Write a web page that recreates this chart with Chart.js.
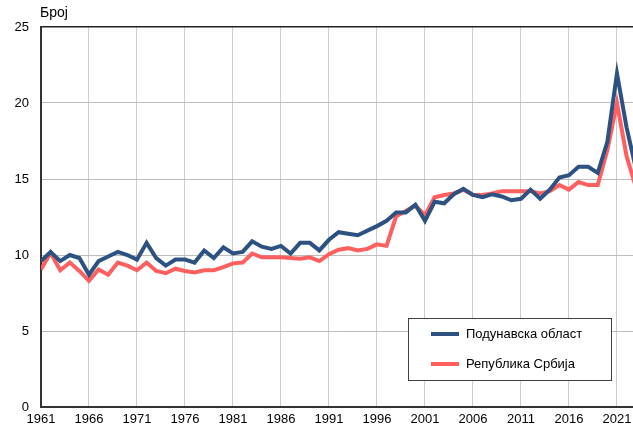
<!DOCTYPE html>
<html>
<head>
<meta charset="utf-8">
<script src="https://cdn.jsdelivr.net/npm/chart.js@4/dist/chart.umd.min.js"></script>
<style>
  html, body { margin: 0; padding: 0; background: #fff; }
  #wrap { position: relative; width: 633px; height: 428px; }
</style>
</head>
<body>
<div id="wrap"><canvas id="chart" width="633" height="428"></canvas></div>
<script>
const years = [];
for (let y = 1961; y <= 2023; y++) years.push(y);

const tickYears = [1961, 1966, 1971, 1976, 1981, 1986, 1991, 1996, 2001, 2006, 2011, 2016, 2021];

// Подунавска област
const podunavska = [
  9.6, 10.2, 9.6, 10.0, 9.8, 8.7, 9.6, 9.9, 10.2, 10.0,
  9.7, 10.8, 9.8, 9.3, 9.7, 9.7, 9.5, 10.3, 9.8, 10.5,
  10.1, 10.2, 10.9, 10.55, 10.4, 10.6, 10.1, 10.8, 10.8, 10.3,
  11.0, 11.5, 11.4, 11.3, 11.6, 11.9, 12.25, 12.8, 12.8, 13.3,
  12.25, 13.5, 13.4, 14.0, 14.35, 13.95, 13.8, 14.0, 13.85, 13.6,
  13.7, 14.3, 13.7, 14.3, 15.1, 15.25, 15.8, 15.8, 15.4, 17.45,
  21.95, 18.4, 15.6
];

// Република Србија
const srbija = [
  9.05, 10.15, 9.0, 9.5, 8.95, 8.3, 9.05, 8.7, 9.5, 9.3,
  9.0, 9.5, 8.95, 8.8, 9.1, 8.95, 8.85, 9.0, 9.0, 9.2,
  9.45, 9.5, 10.1, 9.85, 9.85, 9.85, 9.8, 9.75, 9.85, 9.6,
  10.05, 10.35, 10.45, 10.3, 10.4, 10.7, 10.6, 12.55, 12.9, 13.25,
  12.6, 13.8, 13.95, 14.05, 14.3, 13.95, 13.95, 14.05, 14.2, 14.2,
  14.2, 14.2, 14.05, 14.2, 14.6, 14.3, 14.8, 14.6, 14.6, 16.9,
  20.0, 16.5, 14.4
];

const seriesNames = ["Подунавска област", "Република Србија"];
const seriesColors = ["#2d5282", "#ff5f5f"];
const yLabel = "Број";

const labelsPlugin = {
  id: "labels",
  afterDraw(chart) {
    const { ctx, chartArea } = chart;
    ctx.save();
    // y axis label
    ctx.fillStyle = "#000";
    ctx.font = "14px 'Liberation Sans', Arial, sans-serif";
    ctx.textBaseline = "alphabetic";
    ctx.textAlign = "left";
    ctx.fillText(yLabel, chartArea.left - 1, chartArea.top - 10);

    // legend box
    const bx = 408, by = 318, bw = 203, bh = 62;
    ctx.fillStyle = "#fff";
    ctx.fillRect(bx, by, bw, bh);
    ctx.strokeStyle = "#404040";
    ctx.lineWidth = 1;
    ctx.strokeRect(bx + 0.5, by + 0.5, bw, bh);
    ctx.font = "13px 'Liberation Sans', Arial, sans-serif";
    ctx.textBaseline = "middle";
    chart.data.datasets.forEach((ds, i) => {
      const ly = by + 16 + i * 30;
      ctx.strokeStyle = ds.borderColor;
      ctx.lineWidth = 4;
      ctx.beginPath();
      ctx.moveTo(431, ly);
      ctx.lineTo(459, ly);
      ctx.stroke();
      ctx.fillStyle = "#000";
      ctx.fillText(ds.label, 466, ly);
    });
    ctx.restore();
  }
};

new Chart(document.getElementById("chart"), {
  type: "line",
  data: {
    datasets: [
      {
        label: seriesNames[0],
        data: years.map((y, i) => ({ x: y, y: podunavska[i] })),
        borderColor: seriesColors[0],
        borderWidth: 4,
        pointRadius: 0,
        tension: 0
      },
      {
        label: seriesNames[1],
        data: years.map((y, i) => ({ x: y, y: srbija[i] })),
        borderColor: seriesColors[1],
        borderWidth: 4,
        pointRadius: 0,
        tension: 0
      }
    ]
  },
  options: {
    responsive: false,
    animation: false,
    layout: { padding: { top: 27, right: 0, left: 0, bottom: 0 } },
    plugins: {
      legend: { display: false },
      tooltip: { enabled: false }
    },
    scales: {
      x: {
        type: "linear",
        min: 1961,
        max: 2022.67,
        afterBuildTicks: s => { s.ticks = tickYears.map(v => ({ value: v })); },
        afterFit: s => { s.height = 21; s.paddingLeft = 0; s.paddingRight = 0; },
        grid: { color: "#cccccc", lineWidth: 1, drawTicks: false },
        border: { color: "#333", width: 2 },
        ticks: {
          color: "#000",
          padding: 5,
          maxRotation: 0,
          autoSkip: false,
          font: { family: "'Liberation Sans', Arial, sans-serif", size: 13 },
          callback: v => String(v)
        }
      },
      y: {
        min: 0,
        max: 25,
        afterFit: s => { s.width = 41; s.paddingTop = 0; s.paddingBottom = 0; },
        grid: {
          color: ctx => ctx.tick && ctx.tick.value === 25 ? "#222" : "#bdbdbd",
          lineWidth: ctx => ctx.tick && ctx.tick.value === 25 ? 1.5 : 1,
          drawTicks: false
        },
        border: { color: "#333", width: 2 },
        ticks: {
          stepSize: 5,
          color: "#000",
          padding: 12,
          font: { family: "'Liberation Sans', Arial, sans-serif", size: 13 }
        }
      }
    }
  },
  plugins: [labelsPlugin]
});
</script>
</body>
</html>
